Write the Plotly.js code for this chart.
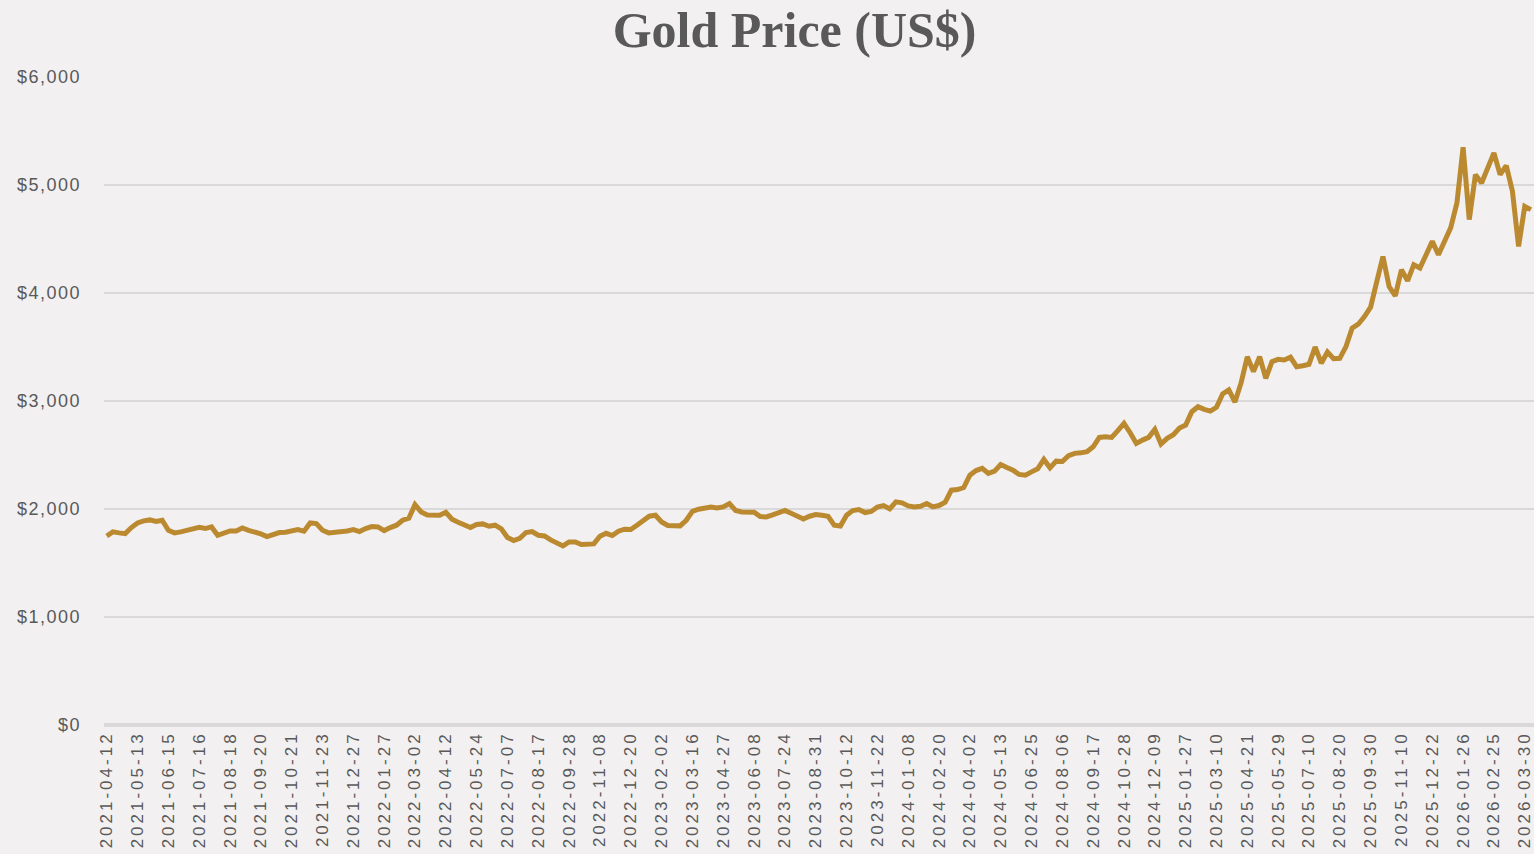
<!DOCTYPE html>
<html>
<head>
<meta charset="utf-8">
<script src="https://cdn.plot.ly/plotly-3.0.1.min.js"></script>
<style>
  html, body { margin: 0; padding: 0; background: #f2f0f1; }
  #chart { width: 1534px; height: 854px; }
  .xtick text { letter-spacing: 3px; }
  .ytick text { letter-spacing: 1.5px; }
</style>
</head>
<body>
<div id="chart"></div>
<script>
// Axis tick labels (category labels shown on the x axis)
const tickDates = [
  "2021-04-12","2021-05-13","2021-06-15","2021-07-16","2021-08-18","2021-09-20","2021-10-21","2021-11-23","2021-12-27",
  "2022-01-27","2022-03-02","2022-04-12","2022-05-24","2022-07-07","2022-08-17","2022-09-28","2022-11-08","2022-12-20",
  "2023-02-02","2023-03-16","2023-04-27","2023-06-08","2023-07-24","2023-08-31","2023-10-12","2023-11-22",
  "2024-01-08","2024-02-20","2024-04-02","2024-05-13","2024-06-25","2024-08-06","2024-09-17","2024-10-28","2024-12-09",
  "2025-01-27","2025-03-10","2025-04-21","2025-05-29","2025-07-10","2025-08-20","2025-09-30","2025-11-10","2025-12-22",
  "2026-01-26","2026-02-25","2026-03-30"
];

const dates = [
  "2021-04-12","2021-04-19","2021-04-23","2021-04-30","2021-05-06",
  "2021-05-13","2021-05-19","2021-05-26","2021-06-01","2021-06-08",
  "2021-06-15","2021-06-21","2021-06-28","2021-07-02","2021-07-09",
  "2021-07-16","2021-07-22","2021-07-29","2021-08-04","2021-08-11",
  "2021-08-18","2021-08-24","2021-08-31","2021-09-07","2021-09-14",
  "2021-09-20","2021-09-24","2021-10-01","2021-10-07","2021-10-14",
  "2021-10-21","2021-10-27","2021-11-03","2021-11-09","2021-11-16",
  "2021-11-23","2021-11-30","2021-12-06","2021-12-13","2021-12-20",
  "2021-12-27","2022-01-03","2022-01-07","2022-01-14","2022-01-21",
  "2022-01-27","2022-02-03","2022-02-09","2022-02-16","2022-02-23",
  "2022-03-02","2022-03-10","2022-03-18","2022-03-25","2022-04-04",
  "2022-04-12","2022-04-20","2022-04-28","2022-05-06","2022-05-16",
  "2022-05-24","2022-06-01","2022-06-09","2022-06-17","2022-06-27",
  "2022-07-07","2022-07-15","2022-07-22","2022-07-29","2022-08-08",
  "2022-08-17","2022-08-25","2022-09-02","2022-09-12","2022-09-20",
  "2022-09-28","2022-10-06","2022-10-14","2022-10-24","2022-11-01",
  "2022-11-08","2022-11-16","2022-11-24","2022-12-02","2022-12-12",
  "2022-12-20","2022-12-29","2023-01-06","2023-01-16","2023-01-25",
  "2023-02-02","2023-02-10","2023-02-20","2023-02-28","2023-03-08",
  "2023-03-16","2023-03-24","2023-04-03","2023-04-11","2023-04-19",
  "2023-04-27","2023-05-05","2023-05-15","2023-05-23","2023-05-31",
  "2023-06-08","2023-06-16","2023-06-27","2023-07-06","2023-07-14",
  "2023-07-24","2023-08-01","2023-08-09","2023-08-17","2023-08-24",
  "2023-08-31","2023-09-08","2023-09-18","2023-09-26","2023-10-04",
  "2023-10-12","2023-10-20","2023-10-30","2023-11-07","2023-11-15",
  "2023-11-22","2023-12-01","2023-12-11","2023-12-19","2023-12-28",
  "2024-01-08","2024-01-16","2024-01-24","2024-02-01","2024-02-09",
  "2024-02-20","2024-02-28","2024-03-07","2024-03-15","2024-03-25",
  "2024-04-02","2024-04-10","2024-04-18","2024-04-26","2024-05-06",
  "2024-05-13","2024-05-21","2024-05-30","2024-06-07","2024-06-17",
  "2024-06-25","2024-07-03","2024-07-12","2024-07-22","2024-07-30",
  "2024-08-06","2024-08-14","2024-08-22","2024-08-30","2024-09-09",
  "2024-09-17","2024-09-25","2024-10-03","2024-10-11","2024-10-21",
  "2024-10-28","2024-11-05","2024-11-13","2024-11-21","2024-12-02",
  "2024-12-09","2024-12-17","2024-12-27","2025-01-08","2025-01-17",
  "2025-01-27","2025-02-04","2025-02-12","2025-02-20","2025-02-28",
  "2025-03-10","2025-03-18","2025-03-26","2025-04-03","2025-04-11",
  "2025-04-21","2025-04-29","2025-05-07","2025-05-14","2025-05-21",
  "2025-05-29","2025-06-06","2025-06-16","2025-06-24","2025-07-02",
  "2025-07-10","2025-07-18","2025-07-28","2025-08-05","2025-08-12",
  "2025-08-20","2025-08-28","2025-09-08","2025-09-16","2025-09-23",
  "2025-09-30","2025-10-08","2025-10-16","2025-10-24","2025-11-03",
  "2025-11-10","2025-11-18","2025-11-26","2025-12-04","2025-12-12",
  "2025-12-22","2025-12-31","2026-01-08","2026-01-14","2026-01-20",
  "2026-01-26","2026-02-02","2026-02-06","2026-02-13","2026-02-19",
  "2026-02-25","2026-03-04","2026-03-10","2026-03-17","2026-03-23",
  "2026-03-30","2026-04-06"
];

const prices = [
  1750,1788,1779,1772,1828, 1871,1890,1899,1884,1896,
  1803,1779,1788,1803,1825, 1831,1819,1834,1757,1779,
  1797,1797,1825,1803,1791, 1769,1745,1766,1782,1785,
  1803,1810,1794,1871,1865, 1803,1779,1782,1788,1797,
  1810,1791,1819,1837,1834, 1800,1828,1850,1896,1915,
  2040,1973,1945,1945,1942, 1970,1905,1878,1853,1828,
  1856,1862,1840,1850,1816, 1736,1708,1729,1782,1791,
  1757,1751,1714,1692,1658, 1695,1695,1671,1671,1677,
  1748,1775,1754,1794,1813, 1810,1850,1890,1933,1942,
  1880,1847,1840,1844,1896, 1979,1998,2013,2019,2010,
  2019,2050,1986,1973,1976, 1970,1930,1927,1945,1967,
  1986,1961,1930,1908,1933, 1948,1942,1933,1850,1843,
  1942,1986,1995,1967,1977, 2019,2032,2001,2066,2057,
  2029,2019,2026,2051,2019, 2032,2063,2174,2180,2199,
  2313,2356,2376,2329,2350, 2412,2384,2360,2320,2313,
  2344,2372,2459,2381,2443, 2440,2493,2515,2520,2530,
  2576,2663,2669,2663,2725, 2793,2706,2607,2638,2663,
  2737,2601,2654,2688,2750, 2777,2901,2947,2923,2907,
  2941,3065,3102,2990,3170, 3410,3272,3410,3210,3364,
  3386,3380,3405,3318,3327, 3340,3500,3350,3454,3392,
  3395,3504,3674,3711,3782, 3869,4106,4338,4060,3973,
  4215,4113,4262,4231,4354, 4478,4354,4493,4605,4834,
  5350,4680,5096,5018,5173, 5297,5096,5180,4942,4431,
  4802,4772
];

const yTicks = [0, 1000, 2000, 3000, 4000, 5000, 6000];

const trace = {
  x: dates,
  y: prices,
  type: 'scatter',
  mode: 'lines',
  line: { color: '#bb8a30', width: 5, shape: 'linear' },
  hoverinfo: 'skip'
};

const layout = {
  width: 1534,
  height: 854,
  paper_bgcolor: '#f2f0f1',
  plot_bgcolor: '#f2f0f1',
  margin: { l: 104, r: 0, t: 77, b: 129, pad: 0 },
  showlegend: false,
  title: {
    text: 'Gold Price (US$)',
    font: { family: 'Liberation Serif, Times New Roman, serif', size: 50, color: '#595959', weight: 'bold' },
    x: 0.518, xref: 'container', xanchor: 'center',
    y: 0.966, yref: 'container', yanchor: 'middle'
  },
  xaxis: {
    type: 'category',
    categoryorder: 'array',
    categoryarray: dates,
    range: [-0.44, 231.5],
    tickmode: 'array',
    tickvals: tickDates,
    ticktext: tickDates,
    tickangle: -90,
    tickfont: { family: 'Liberation Sans, Arial, sans-serif', size: 17, color: '#595959' },
    showgrid: false,
    zeroline: false,
    showline: false,
    ticks: '',
    ticklabelstandoff: 2,
    fixedrange: true
  },
  yaxis: {
    range: [0, 6000],
    tickmode: 'array',
    tickvals: yTicks,
    tickformat: '$,.0f',
    tickfont: { family: 'Liberation Sans, Arial, sans-serif', size: 18, color: '#595959' },
    showgrid: true,
    gridcolor: '#d9d9d9',
    gridwidth: 2,
    zeroline: true,
    zerolinecolor: '#d9d9d9',
    zerolinewidth: 4,
    showline: false,
    ticks: '',
    ticklabelstandoff: 22,
    fixedrange: true
  }
};

Plotly.newPlot('chart', [trace], layout, { displayModeBar: false, staticPlot: true });
</script>
</body>
</html>
